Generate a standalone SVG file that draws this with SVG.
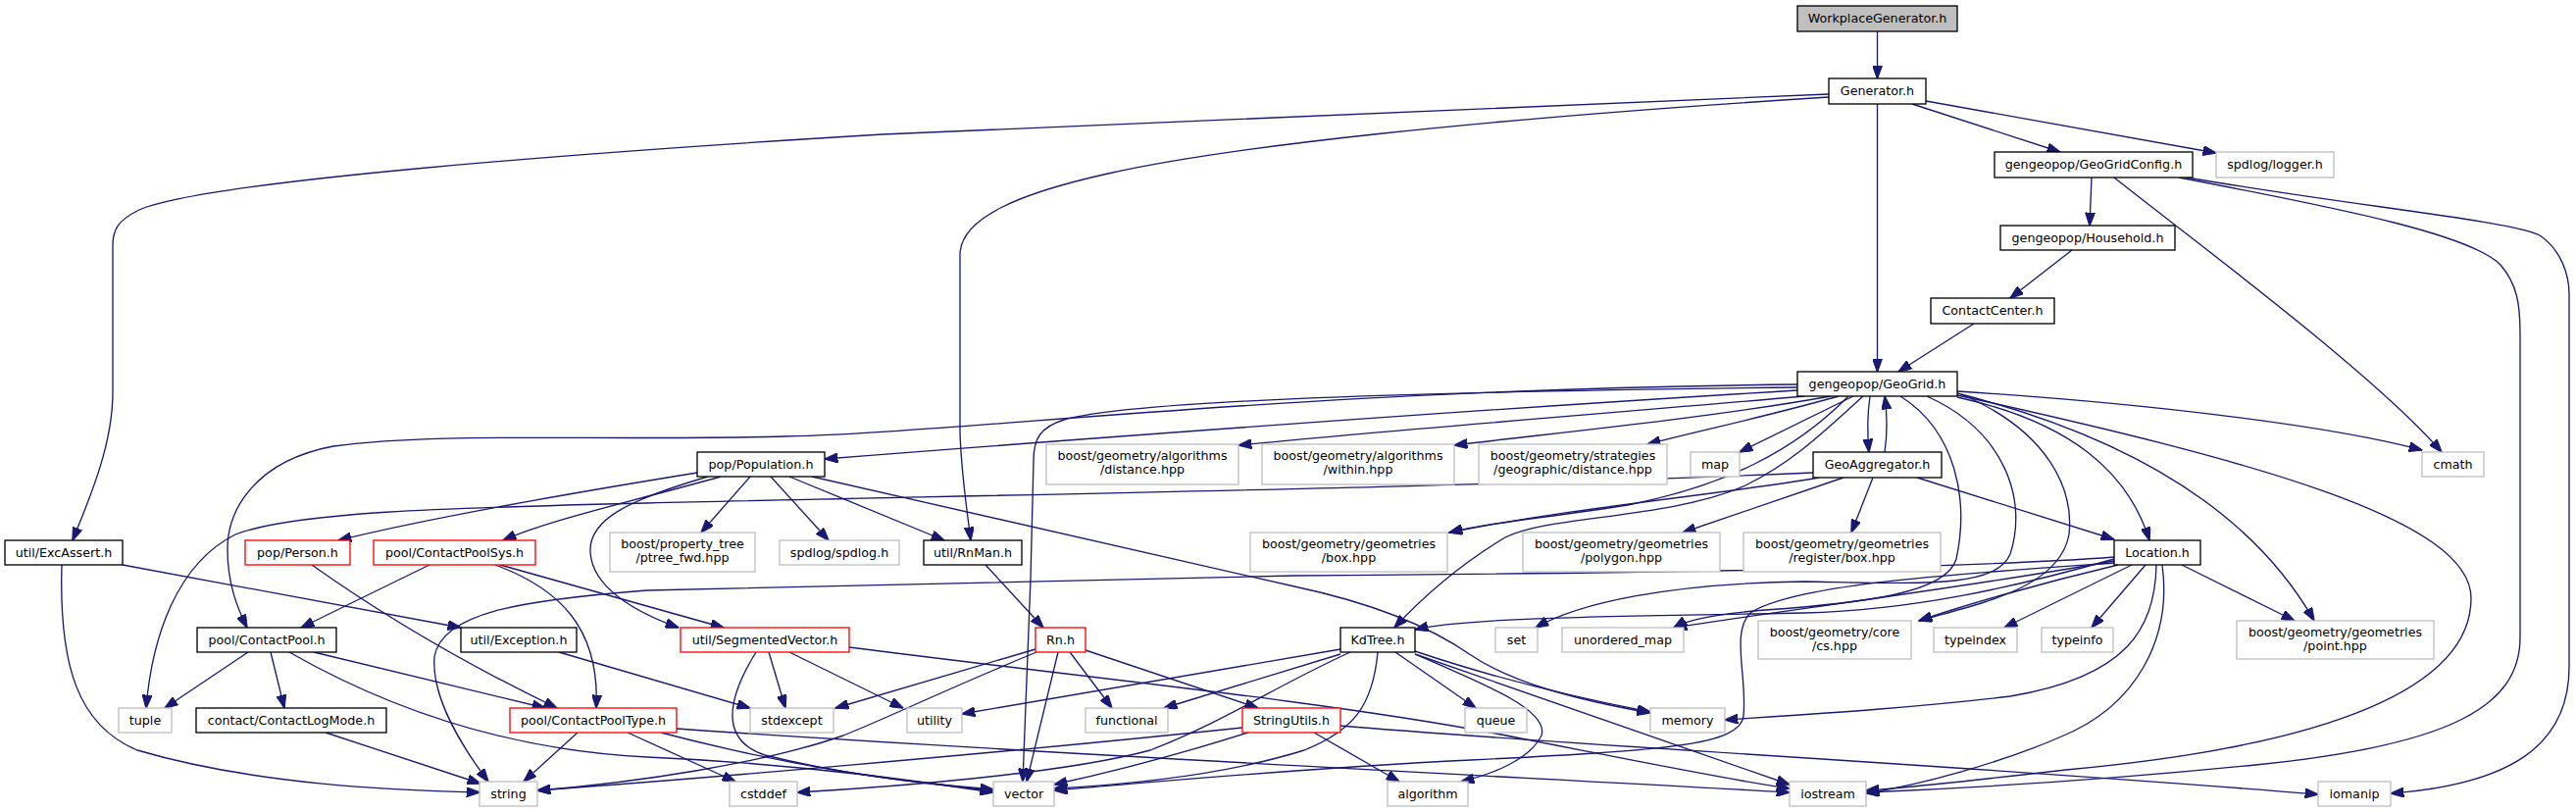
<svg xmlns="http://www.w3.org/2000/svg" width="2627" height="828" viewBox="0 0 2627 828">
<style>
.nd rect{fill:#fff;stroke:#000;stroke-width:1.33}
.gy rect{stroke:#bfbfbf}
.rd rect{stroke:#ff0000}
.root rect{fill:#bfbfbf}
text{font-family:"DejaVu Sans","Liberation Sans",sans-serif;font-size:12.7px;text-anchor:middle;fill:#000}
#edges path{fill:none;stroke:#191970;stroke-width:1.33;marker-end:url(#ah)}
</style>
<defs>
<marker id="ah" markerUnits="userSpaceOnUse" markerWidth="14" markerHeight="10" viewBox="0 0 13 9.4" refX="12.5" refY="4.7" orient="auto">
<path d="M0,0 L13,4.7 L0,9.4 Z" fill="#191970" stroke="#191970" stroke-width="1"/>
</marker>
</defs>
<rect x="0" y="0" width="2627" height="828" fill="#fff"/>
<g id="edges">
<path d="M1914.5,32 L1914.5,80"/>
<path d="M1865,96 C1500,112 1150,127 900,137 C600,155 200,185 140,215 C120,225 115,235 115,250 L115,400 C115,450 95,500 74,551"/>
<path d="M1865,99 C1500,122 1250,150 1130,177 C1040,197 979,222 979,260 L979,440 C980,480 986,520 990,551"/>
<path d="M1914.5,106 L1914.5,379"/>
<path d="M1950,106 L2101,155"/>
<path d="M1964,103 L2260,156"/>
<path d="M2133,181 L2131,230"/>
<path d="M2156,181 C2230,240 2420,380 2490,461"/>
<path d="M2222,181 C2400,215 2520,240 2550,270 C2567,290 2570,310 2570,340 L2570,650 C2570,720 2500,760 2300,780 C2150,795 2000,804 1903,808"/>
<path d="M2230,181 C2400,210 2560,225 2590,240 C2612,255 2620,280 2620,300 L2620,680 C2620,760 2560,800 2438,809"/>
<path d="M2113,255 L2050,304"/>
<path d="M2013,330 L1936,379"/>
<path d="M1907,404 C1904,425 1904,440 1906,461"/>
<path d="M1922,461 C1925,440 1925,425 1922,404"/>
<path d="M1833,392 C1300,398 1000,440 800,445 C600,450 450,440 340,455 C260,470 232,520 232,560 C232,595 242,620 252,640"/>
<path d="M1833,398 C1500,418 1200,440 841,468"/>
<path d="M1833,395 C1400,400 1150,410 1085,428 C1060,436 1054,448 1054,470 L1051,590 L1043,797"/>
<path d="M1840,404 C1600,425 1400,440 1263,454"/>
<path d="M1867,404 C1750,425 1600,440 1483,454"/>
<path d="M1875,404 C1800,425 1730,440 1680,453"/>
<path d="M1890,404 L1774,461"/>
<path d="M1900,404 C1860,440 1830,470 1780,495 C1700,530 1580,525 1535,548 C1490,575 1450,610 1422,640"/>
<path d="M1885,404 C1830,460 1760,495 1660,515 C1580,528 1520,532 1478,543"/>
<path d="M1938,404 C1995,440 2008,510 1995,570 C1985,605 1900,615 1800,622 C1750,626 1720,632 1707,640"/>
<path d="M1965,404 C2045,440 2068,510 2050,565 C2035,600 1960,595 1840,593 C1700,595 1610,615 1566,640"/>
<path d="M2000,402 C2090,440 2115,500 2110,545 C2100,600 2020,615 1957,633"/>
<path d="M1996,405 C2110,430 2170,480 2192,551"/>
<path d="M1996,401 C2150,440 2290,510 2360,633"/>
<path d="M1996,399 C2200,412 2380,435 2470,459"/>
<path d="M1996,403 C2300,470 2520,530 2520,610 C2520,700 2380,760 2107,785 C2020,795 1950,803 1903,806"/>
<path d="M1849,482 C1500,497 1000,505 660,513 C450,518 300,522 240,545 C180,575 155,650 149,722"/>
<path d="M1855,487 C1750,505 1600,518 1478,543"/>
<path d="M1880,487 L1716,543"/>
<path d="M1910,487 L1888,543"/>
<path d="M1955,487 L2156,550"/>
<path d="M711,482 C600,500 450,525 345,551"/>
<path d="M735,486 C650,510 560,530 513,551"/>
<path d="M722,486 C640,510 600,530 602,563 C604,600 650,625 692,640"/>
<path d="M765,486 L715,543"/>
<path d="M786,486 L845,551"/>
<path d="M805,486 L963,551"/>
<path d="M828,486 L1320,598 C1400,615 1460,640 1500,668 C1540,695 1600,712 1683,727"/>
<path d="M125,576 L470,640"/>
<path d="M63,576 C60,680 80,740 140,765 C260,800 400,806 489,808"/>
<path d="M318,576 C380,620 460,670 568,722"/>
<path d="M438,576 L307,640"/>
<path d="M505,576 C570,600 612,640 608,722"/>
<path d="M510,576 L738,640"/>
<path d="M1005,576 L1064,640"/>
<path d="M2156,568 C2000,580 1600,585 1320,587 L660,602 C530,612 450,625 443,670 C440,710 470,760 498,797"/>
<path d="M2156,570 C2050,600 1950,622 1840,625 C1700,628 1500,628 1443,642"/>
<path d="M2156,572 C2000,600 1800,625 1707,640"/>
<path d="M2160,576 C2080,595 2000,618 1957,633"/>
<path d="M2174,576 L2044,640"/>
<path d="M2188,576 L2133,640"/>
<path d="M2225,576 L2340,633"/>
<path d="M2199,576 C2198,640 2170,690 2050,710 C1950,722 1850,728 1759,734"/>
<path d="M2205,576 C2215,650 2180,720 2100,752 C2040,778 1960,800 1903,809"/>
<path d="M2156,574 C2000,585 1830,595 1785,625 C1765,645 1782,690 1778,730 C1774,760 1700,765 1500,775 C1300,785 1150,800 1075,806"/>
<path d="M253,665 L168,722"/>
<path d="M276,665 L290,722"/>
<path d="M320,665 L556,722"/>
<path d="M295,665 C400,725 520,765 660,772 C800,778 930,795 1013,808"/>
<path d="M570,665 L765,722"/>
<path d="M784,665 L801,722"/>
<path d="M805,665 L921,722"/>
<path d="M771,665 C740,715 735,755 780,770 C860,790 950,800 1013,805"/>
<path d="M866,660 C1100,690 1350,715 1520,747 C1650,772 1760,795 1825,804"/>
<path d="M1056,662 L852,722"/>
<path d="M1057,665 C960,705 910,730 860,750 C780,778 650,798 548,806"/>
<path d="M1079,665 L1047,797"/>
<path d="M1091,665 L1134,722"/>
<path d="M1107,663 L1283,722"/>
<path d="M1367,662 L981,728"/>
<path d="M1367,667 L1187,722"/>
<path d="M1377,665 C1300,700 1250,735 1173,765 C1080,790 900,803 813,808"/>
<path d="M1405,665 C1400,720 1380,745 1330,765 C1250,790 1150,800 1075,804"/>
<path d="M1423,665 L1505,722"/>
<path d="M1443,664 C1520,690 1600,710 1683,726"/>
<path d="M1443,667 C1520,700 1580,725 1572,750 C1560,775 1520,790 1490,797"/>
<path d="M1443,667 L1825,800"/>
<path d="M1340,747 L1427,797"/>
<path d="M1267,742 C1000,770 700,795 548,806"/>
<path d="M1273,747 C1200,770 1130,788 1075,800"/>
<path d="M1367,740 C1600,760 2000,780 2364,810"/>
<path d="M332,747 L490,799"/>
<path d="M589,747 L534,797"/>
<path d="M640,747 L750,797"/>
<path d="M674,747 C800,780 900,795 1013,806"/>
<path d="M690,743 C1000,765 1500,790 1825,808"/>
</g>
<g id="n_workplacegenerator" class="nd root"><rect x="1833" y="6" width="163" height="26"/><text x="1914.5" y="23">WorkplaceGenerator.h</text></g>
<g id="n_generator" class="nd"><rect x="1865" y="80" width="99" height="26"/><text x="1914.5" y="97">Generator.h</text></g>
<g id="n_geogridconfig" class="nd"><rect x="2034" y="155" width="202" height="26"/><text x="2135" y="172">gengeopop/GeoGridConfig.h</text></g>
<g id="n_logger" class="nd gy"><rect x="2260" y="155" width="120" height="26"/><text x="2320" y="172">spdlog/logger.h</text></g>
<g id="n_household" class="nd"><rect x="2040" y="230" width="178" height="25"/><text x="2129" y="247">gengeopop/Household.h</text></g>
<g id="n_contactcenter" class="nd"><rect x="1969" y="304" width="126" height="26"/><text x="2032" y="321">ContactCenter.h</text></g>
<g id="n_geogrid" class="nd"><rect x="1833" y="379" width="163" height="25"/><text x="1914.5" y="396">gengeopop/GeoGrid.h</text></g>
<g id="n_population" class="nd"><rect x="711" y="461" width="130" height="25"/><text x="776" y="478">pop/Population.h</text></g>
<g id="n_distance" class="nd gy"><rect x="1067" y="453" width="196" height="41"/><text x="1165" y="469">boost/geometry/algorithms</text><text x="1165" y="483">/distance.hpp</text></g>
<g id="n_within" class="nd gy"><rect x="1287" y="453" width="196" height="41"/><text x="1385" y="469">boost/geometry/algorithms</text><text x="1385" y="483">/within.hpp</text></g>
<g id="n_strategies" class="nd gy"><rect x="1508" y="453" width="192" height="41"/><text x="1604" y="469">boost/geometry/strategies</text><text x="1604" y="483">/geographic/distance.hpp</text></g>
<g id="n_map" class="nd gy"><rect x="1724" y="461" width="50" height="25"/><text x="1749" y="478">map</text></g>
<g id="n_geoaggregator" class="nd"><rect x="1849" y="461" width="131" height="26"/><text x="1914.5" y="478">GeoAggregator.h</text></g>
<g id="n_cmath" class="nd gy"><rect x="2470" y="461" width="63" height="25"/><text x="2501.5" y="478">cmath</text></g>
<g id="n_excassert" class="nd"><rect x="5" y="551" width="120" height="25"/><text x="65" y="568">util/ExcAssert.h</text></g>
<g id="n_person" class="nd rd"><rect x="250" y="551" width="107" height="25"/><text x="303.5" y="568">pop/Person.h</text></g>
<g id="n_contactpoolsys" class="nd rd"><rect x="381" y="551" width="165" height="25"/><text x="463.5" y="568">pool/ContactPoolSys.h</text></g>
<g id="n_ptree" class="nd gy"><rect x="622" y="543" width="148" height="40"/><text x="696" y="559">boost/property_tree</text><text x="696" y="573">/ptree_fwd.hpp</text></g>
<g id="n_spdlog" class="nd gy"><rect x="795" y="551" width="122" height="25"/><text x="856" y="568">spdlog/spdlog.h</text></g>
<g id="n_rnman" class="nd"><rect x="942" y="551" width="100" height="25"/><text x="992" y="568">util/RnMan.h</text></g>
<g id="n_box" class="nd gy"><rect x="1275" y="543" width="201" height="40"/><text x="1375.5" y="559">boost/geometry/geometries</text><text x="1375.5" y="573">/box.hpp</text></g>
<g id="n_polygon" class="nd gy"><rect x="1553" y="543" width="201" height="40"/><text x="1653.5" y="559">boost/geometry/geometries</text><text x="1653.5" y="573">/polygon.hpp</text></g>
<g id="n_registerbox" class="nd gy"><rect x="1778" y="543" width="201" height="40"/><text x="1878.5" y="559">boost/geometry/geometries</text><text x="1878.5" y="573">/register/box.hpp</text></g>
<g id="n_location" class="nd"><rect x="2156" y="551" width="88" height="25"/><text x="2200" y="568">Location.h</text></g>
<g id="n_contactpool" class="nd"><rect x="201" y="640" width="142" height="25"/><text x="272" y="657">pool/ContactPool.h</text></g>
<g id="n_exception" class="nd"><rect x="470" y="640" width="118" height="25"/><text x="529" y="657">util/Exception.h</text></g>
<g id="n_segmentedvector" class="nd rd"><rect x="694" y="640" width="172" height="25"/><text x="780" y="657">util/SegmentedVector.h</text></g>
<g id="n_rn" class="nd rd"><rect x="1056" y="640" width="51" height="25"/><text x="1081.5" y="657">Rn.h</text></g>
<g id="n_kdtree" class="nd"><rect x="1367" y="640" width="76" height="25"/><text x="1405" y="657">KdTree.h</text></g>
<g id="n_set" class="nd gy"><rect x="1525" y="640" width="43" height="25"/><text x="1546.5" y="657">set</text></g>
<g id="n_unorderedmap" class="nd gy"><rect x="1593" y="640" width="124" height="25"/><text x="1655" y="657">unordered_map</text></g>
<g id="n_cs" class="nd gy"><rect x="1793" y="633" width="156" height="39"/><text x="1871" y="649">boost/geometry/core</text><text x="1871" y="663">/cs.hpp</text></g>
<g id="n_typeindex" class="nd gy"><rect x="1972" y="640" width="85" height="25"/><text x="2014.5" y="657">typeindex</text></g>
<g id="n_typeinfo" class="nd gy"><rect x="2082" y="640" width="73" height="25"/><text x="2118.5" y="657">typeinfo</text></g>
<g id="n_point" class="nd gy"><rect x="2281" y="633" width="201" height="39"/><text x="2381.5" y="649">boost/geometry/geometries</text><text x="2381.5" y="663">/point.hpp</text></g>
<g id="n_tuple" class="nd gy"><rect x="121" y="722" width="54" height="25"/><text x="148" y="739">tuple</text></g>
<g id="n_contactlogmode" class="nd"><rect x="200" y="722" width="194" height="25"/><text x="297" y="739">contact/ContactLogMode.h</text></g>
<g id="n_contactpooltype" class="nd rd"><rect x="520" y="722" width="170" height="25"/><text x="605" y="739">pool/ContactPoolType.h</text></g>
<g id="n_stdexcept" class="nd gy"><rect x="765" y="722" width="85" height="25"/><text x="807.5" y="739">stdexcept</text></g>
<g id="n_utility" class="nd gy"><rect x="925" y="722" width="56" height="25"/><text x="953" y="739">utility</text></g>
<g id="n_functional" class="nd gy"><rect x="1107" y="722" width="84" height="25"/><text x="1149" y="739">functional</text></g>
<g id="n_stringutils" class="nd rd"><rect x="1267" y="722" width="100" height="25"/><text x="1317" y="739">StringUtils.h</text></g>
<g id="n_queue" class="nd gy"><rect x="1494" y="722" width="63" height="25"/><text x="1525.5" y="739">queue</text></g>
<g id="n_memory" class="nd gy"><rect x="1683" y="722" width="76" height="25"/><text x="1721" y="739">memory</text></g>
<g id="n_string" class="nd gy"><rect x="489" y="797" width="59" height="25"/><text x="518.5" y="814">string</text></g>
<g id="n_cstddef" class="nd gy"><rect x="744" y="797" width="69" height="25"/><text x="778.5" y="814">cstddef</text></g>
<g id="n_vector" class="nd gy"><rect x="1013" y="797" width="62" height="25"/><text x="1044" y="814">vector</text></g>
<g id="n_algorithm" class="nd gy"><rect x="1415" y="797" width="82" height="25"/><text x="1456" y="814">algorithm</text></g>
<g id="n_iostream" class="nd gy"><rect x="1825" y="797" width="78" height="25"/><text x="1864" y="814">iostream</text></g>
<g id="n_iomanip" class="nd gy"><rect x="2364" y="797" width="74" height="25"/><text x="2401" y="814">iomanip</text></g>
</svg>
